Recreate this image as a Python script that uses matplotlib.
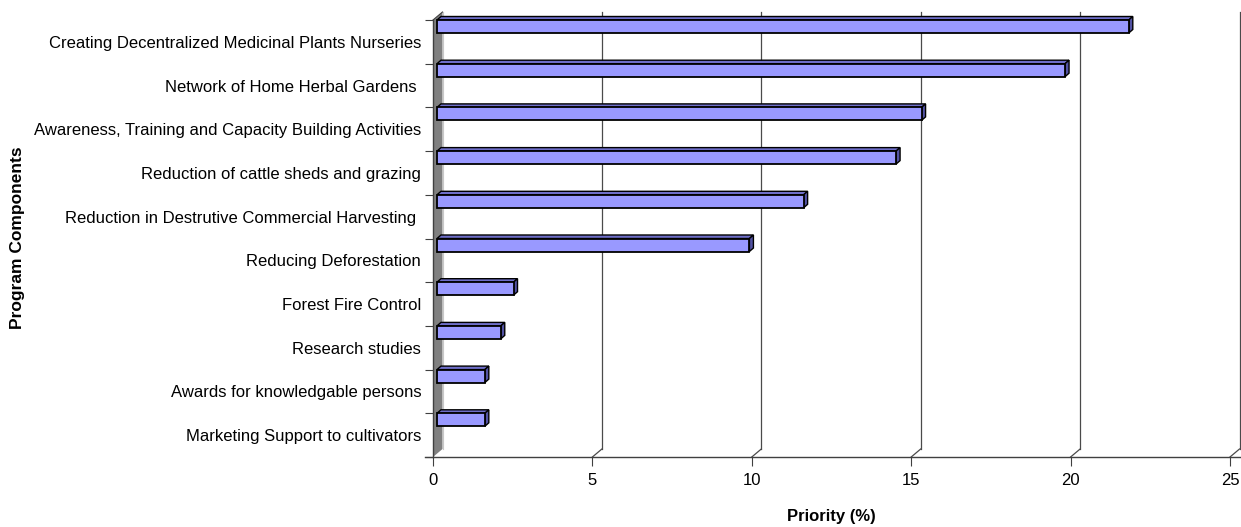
import numpy as np
import matplotlib
matplotlib.use("Agg")
import matplotlib.pyplot as plt
from matplotlib.patches import Polygon

plt.rcParams['font.family'] = ['Liberation Sans', 'DejaVu Sans']

# program components, listed top to bottom
components = [
    'Creating Decentralized Medicinal Plants Nurseries',
    'Network of Home Herbal Gardens ',
    'Awareness, Training and Capacity Building Activities',
    'Reduction of cattle sheds and grazing',
    'Reduction in Destrutive Commercial Harvesting ',
    'Reducing Deforestation',
    'Forest Fire Control',
    'Research studies',
    'Awards for knowledgable persons',
    'Marketing Support to cultivators',
]
priority = [21.7, 19.7, 15.2, 14.4, 11.5, 9.8, 2.4, 2.0, 1.5, 1.5]
xticks = [0, 5, 10, 15, 20, 25]

W, H = 1241, 527
fig = plt.figure(figsize=(W / 100, H / 100), dpi=100)

# plot area in pixels: front plane x=0 at 433, x=25 at 1230; y from 457 (bottom) to 20 (top)
px_left, px_right = 433, 1230
px_top, px_bot = 20, 457
ax = fig.add_axes([px_left / W, (H - px_bot) / H,
                   (px_right - px_left) / W, (px_bot - px_top) / H])
n = len(components)
ax.set_xlim(0, 25)
ax.set_ylim(0, n)
for s in ax.spines.values():
    s.set_visible(False)

sx = (px_right - px_left) / 25.0      # px per unit value
sy = (px_bot - px_top) / n            # px per category band

def dx(p):
    return p / sx

def dy(p):
    return p / sy

grid_c = '#4a4a4a'
axis_c = '#404040'

# 3-D depth of the walls
wdx, wdy = dx(9.5), dy(8)

# side wall
wall = Polygon([(0, 0), (0, n), (wdx, n + wdy), (wdx, wdy)], closed=True,
               facecolor='#808080', edgecolor='none', clip_on=False, zorder=1)
ax.add_patch(wall)
ax.plot([0, wdx], [n, n + wdy], color=axis_c, lw=0.8, clip_on=False, zorder=2)
ax.plot([wdx, wdx], [wdy, n + wdy], color='#c8c8c8', lw=0.8, clip_on=False, zorder=2)

# back gridlines and floor connectors
for v in xticks[1:]:
    ax.plot([v + wdx, v + wdx], [wdy, n + wdy], color=grid_c, lw=0.9,
            clip_on=False, zorder=1)
    ax.plot([v, v + wdx], [0, wdy], color=grid_c, lw=0.9, clip_on=False, zorder=1)

# front axis lines
ax.plot([dx(-8), 25.35], [0, 0], color=axis_c, lw=1.0, clip_on=False, zorder=3)
ax.plot([0, 0], [0, n], color=axis_c, lw=1.0, clip_on=False, zorder=3)

# bars with a small depth
bx0 = dx(4)
bdx, bdy = dx(4), dy(3.5)
bh = dy(13)
face_c, top_c, side_c = '#9999FF', '#6E6EC8', '#5252A3'
for i, val in enumerate(priority):
    yt = n - i
    yb = yt - bh
    x0, x1 = bx0, bx0 + val
    ax.add_patch(Polygon([(x0, yb), (x1, yb), (x1, yt), (x0, yt)], closed=True,
                         facecolor=face_c, edgecolor='black', lw=1.3,
                         joinstyle='miter', clip_on=False, zorder=5))
    ax.add_patch(Polygon([(x0, yt), (x1, yt), (x1 + bdx, yt + bdy), (x0 + bdx, yt + bdy)],
                         closed=True, facecolor=top_c, edgecolor='black', lw=1.0,
                         clip_on=False, zorder=4))
    ax.add_patch(Polygon([(x1, yb), (x1, yt), (x1 + bdx, yt + bdy), (x1 + bdx, yb + bdy)],
                         closed=True, facecolor=side_c, edgecolor='black', lw=1.0,
                         clip_on=False, zorder=4))

# ticks and labels
ax.set_xticks(xticks)
ax.set_xticklabels([str(v) for v in xticks], fontsize=12)
ax.tick_params(axis='x', length=6.5, width=0.8, color=axis_c, pad=5)

ax.set_yticks(np.arange(n) + 0.5)
ax.set_yticklabels(components[::-1], fontsize=12)
ax.set_yticks(np.arange(n + 1), minor=True)
ax.tick_params(axis='y', which='major', length=0, pad=8.5)
ax.tick_params(axis='y', which='minor', length=5.8, width=0.8, color=axis_c)

ax.set_xlabel('Priority (%)', fontsize=12, fontweight='bold', labelpad=15)
fig.text(18 / W, 1 - 238 / H, 'Program Components', rotation=90, fontsize=12.5,
         fontweight='bold', ha='center', va='center')

fig.savefig('out.png', dpi=100)
